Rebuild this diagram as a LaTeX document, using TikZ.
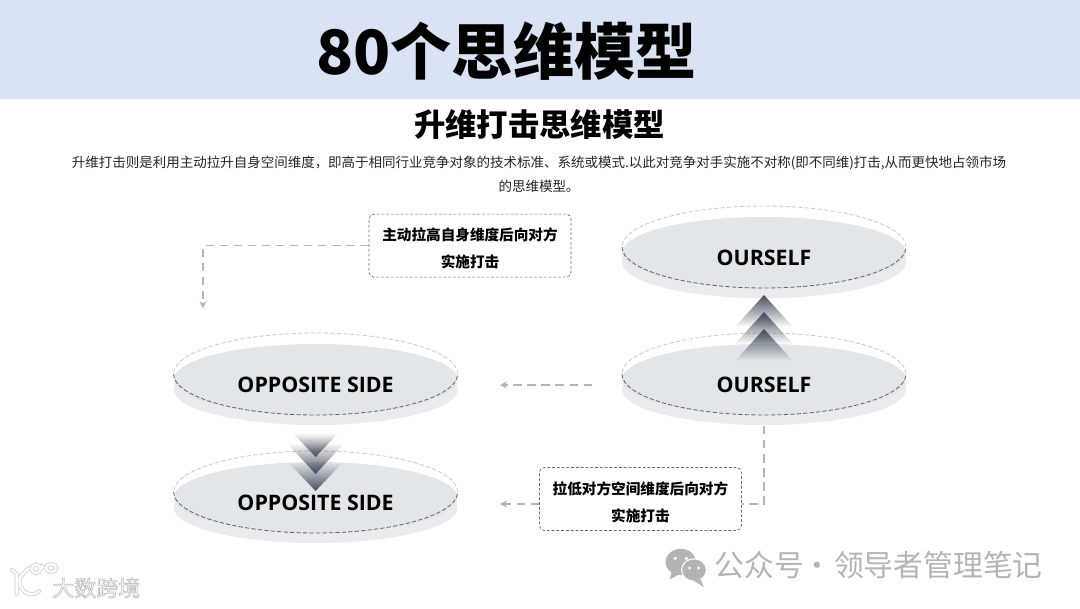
\documentclass[tikz,border=0pt]{standalone}
\usepackage{fontspec}
\setmainfont{Noto Sans CJK SC}
\newfontfamily\labelfont{Open Sans}
\usetikzlibrary{fadings,arrows.meta}
\definecolor{bandblue}{HTML}{D9E3F3}
\definecolor{diskface}{HTML}{E3E6E9}
\definecolor{diskside}{HTML}{E9EBEE}
\definecolor{rimlight}{HTML}{C9CCD1}
\definecolor{rimdark}{HTML}{666B73}
\definecolor{linkgray}{HTML}{B1B5BC}
\definecolor{tipdark}{HTML}{47505F}
\definecolor{markgray}{HTML}{B4B4B4}
\definecolor{iconglow}{HTML}{DADADA}
\tikzfading[name=tipdown, top color=transparent!0, bottom color=transparent!100]
\tikzfading[name=tipup, top color=transparent!100, bottom color=transparent!0]
\tikzset{
  disklabel/.style={font=\labelfont\fontsize{15.2}{18}\selectfont\bfseries,text=black,inner sep=0pt},
  talkbox/.style={draw=rimdark,dash pattern=on 2pt off 1.4pt,line width=0.5pt,rounded corners=3.5pt,
    minimum width=5.05cm,minimum height=1.575cm,inner sep=0pt},
  talktext/.style={inner sep=0pt,align=center,font=\fontsize{10.4}{19}\selectfont\bfseries},
  rimline/.style={dash pattern=on 3pt off 1.6pt,line width=0.6pt},
  linkline/.style={draw=linkgray,dash pattern=on 6pt off 4pt,line width=0.8pt},
  logoglow/.style={draw=iconglow,line width=3pt,line cap=round},
  logoline/.style={draw=white,line width=1.5pt,line cap=round},
}
\begin{document}
\begin{tikzpicture}[>={Stealth[length=5pt,width=5pt]},line width=0.6pt]
  \path[use as bounding box,fill=white] (0,0) rectangle (27,15.2);

  % 标题
  \fill[bandblue] (0,12.72) rectangle (27,15.2);
  \node[inner sep=0pt,font=\fontsize{43.5}{50}\selectfont\bfseries] (title) at (12.66,13.92) {80个思维模型};
  \node[inner sep=0pt,font=\fontsize{22.3}{26}\selectfont\bfseries] (subtitle) at (13.49,12.08) {升维打击思维模型};
  \node[inner sep=0pt,align=center,text=black!85,font=\fontsize{9.6}{17}\selectfont] (intro) at (13.475,10.85)
    {升维打击则是利用主动拉升自身空间维度，即高于相同行业竞争对象的技术标准、系统或模式.以此对竞争对手实施不对称(即不同维)打击,从而更快地占领市场\\的思维模型。};

  % 圆盘
  \foreach \name/\x/\y/\dy/\txt in {top/19.1/9.025/0.26/OURSELF,our/19.1/5.85/0.26/OURSELF,opp/7.89/5.85/0.26/OPPOSITE SIDE,low/7.89/2.9/0.28/OPPOSITE SIDE}{
    \fill[diskside] (\x,\y-0.3875) ellipse (3.55 and 0.8875);
    \fill[diskface] (\x,\y-0.1375) ellipse (3.55 and 0.8875);
    \draw[rimlight,rimline] (\x+3.55,\y) arc (0:180:3.55 and 1.025);
    \draw[rimdark,rimline] (\x-3.55,\y) arc (180:360:3.55 and 1.025);
    \node[disklabel] (\name) at (\x,\y-\dy) {\txt};
  }

  % 上升三角
  \foreach \tip/\base in {7.825/7.025,7.4/6.6,6.975/6.175}{
    \fill[tipdark,path fading=tipdown] (19.1,\tip) -- (19.825,\base) -- (18.375,\base) -- cycle;
  }
  % 下降三角
  \fill[tipdark,path fading=tipup] (7.89,3.775) -- (8.46,4.375) -- (7.32,4.375) -- cycle;
  \fill[tipdark,path fading=tipup] (7.89,3.35) -- (8.61,4.125) -- (7.17,4.125) -- cycle;
  \fill[tipdark,path fading=tipup] (7.89,2.925) -- (8.58,3.65) -- (7.2,3.65) -- cycle;

  % 文本框
  \node[talkbox] (raise) at (11.75,9.06) {};
  \node[talktext] (raiseText) at (11.75,8.985) {主动拉高自身维度后向对方\\实施打击};
  \node[talkbox] (lower) at (16.01,2.725) {};
  \node[talktext] (lowerText) at (16.01,2.65) {拉低对方空间维度后向对方\\实施打击};

  % 虚线箭头
  \coordinate (raiseEnd) at (5.075,7.5);
  \coordinate (midStart) at (14.8,5.575);
  \coordinate (midEnd) at (12.5,5.575);
  \coordinate (lowEnd) at (12.5,2.6);
  \coordinate (ourFoot) at (19.1,4.55);
  \draw[linkline,->] (raise.west) -| (raiseEnd);
  \draw[linkline,->] (midStart) -- (midEnd);
  \draw[linkline,->] (lower.west |- lowEnd) -- (lowEnd);
  \draw[linkline] (ourFoot) |- (lower.east |- lowEnd);

  % 水印
  \fill[markgray] (17.02,1.15) ellipse (0.38 and 0.33);
  \fill[markgray] (16.8,0.95) -- (16.75,0.72) -- (17.05,0.88) -- cycle;
  \fill[white] (16.88,1.24) circle (0.045) (17.16,1.24) circle (0.045);
  \filldraw[fill=markgray,draw=white,line width=0.8pt] (17.35,0.95) ellipse (0.31 and 0.28);
  \fill[markgray] (17.5,0.74) -- (17.6,0.52) -- (17.35,0.68) -- cycle;
  \fill[white] (17.24,1.0) circle (0.04) (17.46,1.0) circle (0.04);
  \node[anchor=west,inner sep=0pt,text=markgray,font=\fontsize{21.2}{24}\selectfont] (account) at (17.86,1.075) {公众号\hspace{-1.5pt}·\hspace{1.5pt}领导者管理笔记};

  % 左下角标志
  \node[anchor=west,inner sep=0pt,text=white,font=\fontsize{15.6}{18}\selectfont] (brand) at (1.3,0.5)
    {\special{pdf:code 0.74 G 0.45 w 2 Tr}大数跨境\special{pdf:code 0 Tr}};
  \foreach \kind in {logoglow,logoline}{
    \draw[\kind] (0.3,0.95) -- (0.42,0.85) -- (0.42,0.35);
    \draw[\kind] (0.98,0.42) arc (-50:-200:0.3 and 0.33) -- (0.72,1.0);
    \draw[\kind] (0.9,0.98) circle (0.11);
    \draw[\kind] (1.05,1.02) ellipse (0.02 and 0.02);
    \draw[\kind] (1.28,1.0) ellipse (0.13 and 0.1);
  }
\end{tikzpicture}
\end{document}
